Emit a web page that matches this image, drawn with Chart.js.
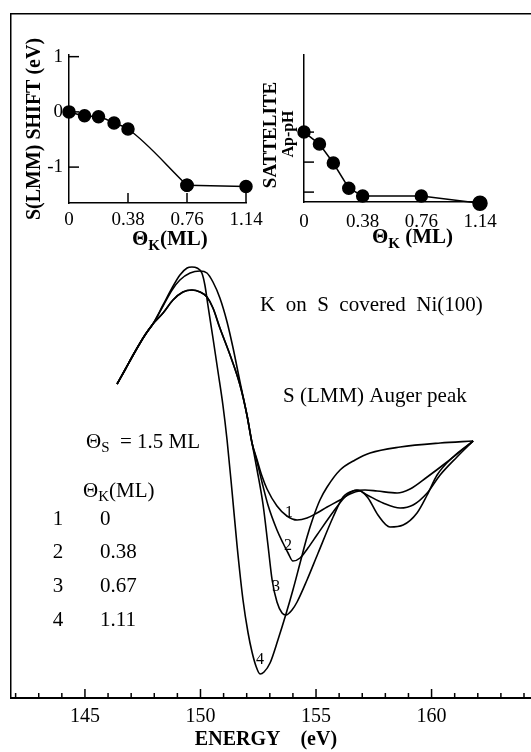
<!DOCTYPE html>
<html>
<head>
<meta charset="utf-8">
<script src="https://cdn.jsdelivr.net/npm/chart.js@4.4.0/dist/chart.umd.min.js"></script>
<style>
  html, body { margin: 0; padding: 0; background: #fff; }
  .wrap { position: relative; width: 531px; height: 752px; }
  .wrap canvas { position: absolute; left: 0; top: 0; }
</style>
</head>
<body>
<div class="wrap">
  <canvas id="augerChart" width="531" height="752"></canvas>
  <canvas id="shiftChart" width="531" height="752"></canvas>
  <canvas id="satChart" width="531" height="752"></canvas>
</div>
<script>
// ===== Data =====
// S(LMM) Auger spectra: energy (eV) and dN/dE (arb. units)
const energy1 = [146.39, 146.73, 147.16, 147.60, 147.94, 148.38, 148.81, 149.24, 149.63, 149.98, 150.28, 150.54, 150.84, 151.28, 151.71, 152.01, 152.23, 152.45, 152.66, 152.88, 153.31, 153.74, 154.18, 154.61, 155.04, 155.48, 156.04, 156.47, 156.90, 157.25, 157.68, 158.20, 158.77, 159.37, 159.81, 160.24, 160.93, 161.80];
const auger1 = [3.14, 3.28, 3.46, 3.63, 3.74, 3.85, 3.98, 4.06, 4.08, 4.06, 4.01, 3.90, 3.70, 3.43, 3.13, 2.83, 2.55, 2.38, 2.22, 2.09, 1.92, 1.82, 1.78, 1.80, 1.85, 1.91, 1.98, 2.04, 2.07, 2.00, 1.83, 1.71, 1.73, 1.85, 2.03, 2.23, 2.41, 2.57];

const energy2 = [146.39, 146.73, 147.16, 147.60, 147.94, 148.38, 148.81, 149.24, 149.63, 149.98, 150.28, 150.54, 150.84, 151.28, 151.71, 152.01, 152.23, 152.45, 152.66, 152.92, 153.31, 153.57, 153.79, 154.00, 154.31, 154.65, 155.04, 155.74, 156.34, 156.77, 157.21, 157.90, 158.64, 159.20, 159.81, 160.37, 161.10, 161.80];
const auger2 = [3.14, 3.28, 3.46, 3.63, 3.74, 3.85, 3.98, 4.06, 4.08, 4.06, 4.01, 3.90, 3.70, 3.43, 3.13, 2.83, 2.55, 2.36, 2.16, 1.93, 1.68, 1.55, 1.45, 1.37, 1.40, 1.50, 1.63, 1.86, 2.03, 2.08, 2.03, 1.95, 1.90, 1.93, 2.05, 2.23, 2.41, 2.57];

const energy3 = [146.39, 146.73, 147.16, 147.60, 147.94, 148.38, 148.77, 149.11, 149.55, 149.98, 150.28, 150.54, 150.84, 151.15, 151.41, 151.71, 152.01, 152.23, 152.45, 152.71, 152.92, 153.10, 153.31, 153.53, 153.70, 153.96, 154.18, 154.61, 155.09, 155.74, 156.17, 156.60, 157.12, 157.64, 158.51, 159.07, 159.81, 160.67, 161.32, 161.80];
const auger3 = [3.14, 3.28, 3.46, 3.63, 3.74, 3.92, 4.08, 4.18, 4.25, 4.27, 4.25, 4.16, 4.00, 3.76, 3.50, 3.16, 2.83, 2.55, 2.28, 1.93, 1.53, 1.18, 0.96, 0.85, 0.83, 0.88, 0.96, 1.18, 1.45, 1.81, 2.01, 2.07, 2.08, 2.07, 2.05, 2.09, 2.21, 2.36, 2.48, 2.57];

const energy4 = [146.39, 146.73, 147.16, 147.60, 147.94, 148.38, 148.77, 149.11, 149.42, 149.63, 149.85, 150.06, 150.19, 150.32, 150.54, 150.76, 150.97, 151.15, 151.36, 151.58, 151.84, 152.06, 152.23, 152.40, 152.58, 152.75, 153.01, 153.35, 153.70, 154.00, 154.31, 154.61, 154.87, 155.17, 155.48, 156.04, 156.69, 157.34, 158.64, 160.37, 161.80];
const auger4 = [3.14, 3.28, 3.46, 3.63, 3.74, 3.93, 4.10, 4.23, 4.30, 4.31, 4.30, 4.25, 4.13, 3.93, 3.60, 3.26, 2.93, 2.58, 2.08, 1.53, 0.98, 0.65, 0.46, 0.32, 0.24, 0.26, 0.35, 0.58, 0.84, 1.08, 1.35, 1.61, 1.80, 1.98, 2.11, 2.28, 2.38, 2.45, 2.51, 2.55, 2.57];

const curveIds = ['1', '2', '3', '4'];
const curveCoverage = ['0', '0.38', '0.67', '1.11'];
const energyTicks = [145, 150, 155, 160];

// Insets: K coverage (ML), S(LMM) shift (eV), satellite Ap-pH (arb.)
const coverageK = [0, 0.1, 0.19, 0.29, 0.38, 0.76, 1.14];
const shiftEv = [0, -0.07, -0.09, -0.2, -0.31, -1.33, -1.35];
const satelliteAmp = [3.0, 2.6, 1.97, 1.13, 0.87, 0.87, 0.63];
const coverageTicks = [0, 0.38, 0.76, 1.14];
const shiftTicks = [-1, 0, 1];
const satTicks = [1, 2, 3];

// ===== Common settings =====
const INK = '#000';
const SERIF = "'Liberation Serif', 'Times New Roman', serif";
Chart.defaults.font.family = SERIF;
Chart.defaults.color = INK;
Chart.defaults.animation = false;

function toPoints(xs, ys) {
  return xs.map((x, i) => ({ x, y: ys[i] }));
}

function drawRich(ctx, x, y, parts) {
  let cx = x;
  parts.forEach((p) => {
    ctx.font = `${p.bold ? 'bold ' : ''}${p.size}px ${SERIF}`;
    ctx.fillText(p.text, cx, y + (p.dy || 0));
    cx += ctx.measureText(p.text).width;
  });
}

function drawRotated(ctx, text, x, y, font) {
  ctx.save();
  ctx.translate(x, y);
  ctx.rotate(-Math.PI / 2);
  ctx.font = font;
  ctx.textAlign = 'center';
  ctx.textBaseline = 'middle';
  ctx.fillText(text, 0, 0);
  ctx.restore();
}

// ticks pointing into the plot
function innerTicks(id, cfg) {
  return {
    id,
    afterDatasetsDraw(chart) {
      const { ctx, chartArea, scales } = chart;
      ctx.save();
      ctx.strokeStyle = INK;
      ctx.lineWidth = cfg.width || 1.5;
      if (cfg.xLen) {
        scales.x.ticks.forEach((t) => {
          const len = cfg.xLen(t.value);
          if (!len) return;
          const px = scales.x.getPixelForValue(t.value);
          ctx.beginPath();
          ctx.moveTo(px, chartArea.bottom);
          ctx.lineTo(px, chartArea.bottom - len);
          ctx.stroke();
        });
      }
      if (cfg.yLen) {
        scales.y.ticks.forEach((t) => {
          const py = scales.y.getPixelForValue(t.value);
          ctx.beginPath();
          ctx.moveTo(chartArea.left, py);
          ctx.lineTo(chartArea.left + cfg.yLen, py);
          ctx.stroke();
        });
      }
      ctx.restore();
    },
  };
}

function curveDataset(xs, ys) {
  return {
    data: toPoints(xs, ys),
    borderColor: INK,
    borderWidth: 1.6,
    pointRadius: 0,
    fill: false,
    cubicInterpolationMode: 'monotone',
  };
}

function dotDataset(xs, ys, extra) {
  return Object.assign({
    data: toPoints(xs, ys),
    borderColor: INK,
    borderWidth: 1.5,
    backgroundColor: INK,
    pointBackgroundColor: INK,
    pointBorderColor: INK,
    pointRadius: 6,
    clip: false,
  }, extra);
}

// ===== Main chart: Auger spectra =====
function renderAugerChart() {
  const notes = {
    id: 'augerNotes',
    afterDraw(chart) {
      const { ctx } = chart;
      ctx.save();
      ctx.fillStyle = INK;
      ctx.textBaseline = 'middle';
      ctx.textAlign = 'left';
      drawRich(ctx, 260, 305, [{ text: 'K  on  S  covered  Ni(100)', size: 21 }]);
      drawRich(ctx, 283, 396, [{ text: 'S (LMM) Auger peak', size: 21 }]);
      drawRich(ctx, 86, 442, [
        { text: 'Θ', size: 21 },
        { text: 'S', size: 15, dy: 6 },
        { text: '  = 1.5 ML', size: 21 },
      ]);
      drawRich(ctx, 83, 491, [
        { text: 'Θ', size: 21 },
        { text: 'K', size: 15, dy: 6 },
        { text: '(ML)', size: 21 },
      ]);
      ctx.font = `21px ${SERIF}`;
      curveIds.forEach((id, i) => {
        const y = 519 + i * 33.7;
        ctx.textAlign = 'center';
        ctx.fillText(id, 58, y);
        ctx.textAlign = 'left';
        ctx.fillText(curveCoverage[i], 100, y);
      });
      const labelPos = [[289, 513], [288, 546], [276, 587], [260, 660]];
      ctx.font = `16px ${SERIF}`;
      ctx.textAlign = 'center';
      curveIds.forEach((id, i) => ctx.fillText(id, labelPos[i][0], labelPos[i][1]));
      ctx.restore();
    },
  };

  new Chart(document.getElementById('augerChart'), {
    type: 'line',
    data: {
      datasets: [
        curveDataset(energy1, auger1),
        curveDataset(energy2, auger2),
        curveDataset(energy3, auger3),
        curveDataset(energy4, auger4),
      ],
    },
    options: {
      responsive: false,
      layout: { padding: { top: 14, left: 0, right: 0, bottom: 0 } },
      plugins: { legend: { display: false }, tooltip: { enabled: false } },
      scales: {
        x: {
          type: 'linear',
          position: 'bottom',
          min: 141.8,
          max: 164.3,
          afterBuildTicks: (scale) => {
            const ticks = [];
            for (let v = 142; v <= 164; v++) ticks.push({ value: v });
            scale.ticks = ticks;
          },
          afterFit: (scale) => { scale.height = 54; },
          ticks: {
            autoSkip: false,
            maxRotation: 0,
            padding: 7,
            font: { size: 20 },
            callback: (v) => (energyTicks.includes(v) ? String(v) : ''),
          },
          grid: { display: false, drawTicks: false },
          border: { display: true, color: INK, width: 2 },
          title: {
            display: true,
            text: 'ENERGY    (eV)  ',
            font: { size: 20, weight: 'bold' },
            padding: { top: 0, bottom: 0 },
          },
        },
        x2: {
          type: 'linear',
          position: 'top',
          min: 141.8,
          max: 164.3,
          afterFit: (scale) => { scale.height = 0; },
          ticks: { display: false },
          grid: { display: false, drawTicks: false },
          border: { display: true, color: INK, width: 1.5 },
        },
        y: {
          type: 'linear',
          position: 'left',
          min: 0,
          max: 6.84,
          afterFit: (scale) => { scale.width = 11; },
          ticks: { display: false },
          grid: { display: false, drawTicks: false },
          border: { display: true, color: INK, width: 1.5 },
        },
      },
    },
    plugins: [
      innerTicks('augerTicks', { xLen: (v) => (energyTicks.includes(v) ? 9 : 5) }),
      notes,
    ],
  });
}

// ===== Inset: S(LMM) shift =====
function renderShiftChart() {
  const notes = {
    id: 'shiftNotes',
    afterDraw(chart) {
      const { ctx } = chart;
      ctx.save();
      ctx.fillStyle = INK;
      ctx.textBaseline = 'middle';
      ctx.textAlign = 'left';
      drawRich(ctx, 132, 240, [
        { text: 'Θ', size: 21, bold: true },
        { text: 'K', size: 15, bold: true, dy: 6 },
        { text: '(ML)', size: 21, bold: true },
      ]);
      ctx.restore();
    },
  };

  new Chart(document.getElementById('shiftChart'), {
    type: 'line',
    data: {
      datasets: [
        // fitted curve up to 0.76 ML, then a straight segment
        dotDataset(coverageK.slice(0, 6), shiftEv.slice(0, 6), { cubicInterpolationMode: 'monotone' }),
        dotDataset(coverageK.slice(5), shiftEv.slice(5), { tension: 0 }),
      ],
    },
    options: {
      responsive: false,
      layout: { padding: { top: 55, left: 0, right: 285, bottom: 499 } },
      plugins: { legend: { display: false }, tooltip: { enabled: false } },
      scales: {
        x: {
          type: 'linear',
          min: 0,
          max: 1.14,
          afterBuildTicks: (scale) => { scale.ticks = coverageTicks.map((v) => ({ value: v })); },
          afterFit: (scale) => { scale.height = 50; },
          ticks: { autoSkip: false, maxRotation: 0, padding: 6, font: { size: 19 }, callback: (v) => String(v) },
          grid: { display: false, drawTicks: false },
          border: { display: true, color: INK, width: 1.5 },
        },
        y: {
          type: 'linear',
          min: -1.65,
          max: 1.03,
          afterBuildTicks: (scale) => { scale.ticks = shiftTicks.map((v) => ({ value: v })); },
          afterFit: (scale) => { scale.width = 69; },
          ticks: { padding: 6, font: { size: 19 }, callback: (v) => String(v) },
          grid: { display: false, drawTicks: false },
          border: { display: true, color: INK, width: 1.5 },
          title: {
            display: true,
            text: 'S(LMM) SHIFT (eV)',
            font: { size: 20, weight: 'bold' },
            padding: { top: 23, bottom: 0 },
          },
        },
      },
    },
    plugins: [
      innerTicks('shiftTicks', { xLen: (v) => (v > 0 ? 10 : 0), yLen: 10 }),
      notes,
    ],
  });
}

// ===== Inset: satellite amplitude =====
function renderSatelliteChart() {
  const notes = {
    id: 'satNotes',
    afterDraw(chart) {
      const { ctx } = chart;
      ctx.save();
      ctx.fillStyle = INK;
      drawRotated(ctx, 'SATTELITE', 271, 135, `bold 19px ${SERIF}`);
      drawRotated(ctx, 'Ap-pH', 289, 134, `bold 16px ${SERIF}`);
      ctx.textBaseline = 'middle';
      ctx.textAlign = 'left';
      drawRich(ctx, 372, 238, [
        { text: 'Θ', size: 21, bold: true },
        { text: 'K', size: 15, bold: true, dy: 6 },
        { text: ' (ML)', size: 21, bold: true },
      ]);
      ctx.restore();
    },
  };

  new Chart(document.getElementById('satChart'), {
    type: 'line',
    data: {
      datasets: [
        dotDataset(coverageK, satelliteAmp, { pointRadius: [6, 6, 6, 6, 6, 6, 7], tension: 0 }),
      ],
    },
    options: {
      responsive: false,
      layout: { padding: { top: 55, left: 304, right: 51, bottom: 500 } },
      plugins: { legend: { display: false }, tooltip: { enabled: false } },
      scales: {
        x: {
          type: 'linear',
          min: 0,
          max: 1.14,
          afterBuildTicks: (scale) => { scale.ticks = coverageTicks.map((v) => ({ value: v })); },
          afterFit: (scale) => { scale.height = 50; },
          ticks: { autoSkip: false, maxRotation: 0, padding: 9, font: { size: 19 }, callback: (v) => String(v) },
          grid: { display: false, drawTicks: false },
          border: { display: true, color: INK, width: 1.5 },
        },
        y: {
          type: 'linear',
          min: 0.67,
          max: 5.57,
          afterBuildTicks: (scale) => { scale.ticks = satTicks.map((v) => ({ value: v })); },
          afterFit: (scale) => { scale.width = 0; },
          ticks: { display: false },
          grid: { display: false, drawTicks: false },
          border: { display: true, color: INK, width: 1.5 },
        },
      },
    },
    plugins: [innerTicks('satTicks', { yLen: 10 }), notes],
  });
}

// ===== Init =====
renderAugerChart();
renderShiftChart();
renderSatelliteChart();
</script>
</body>
</html>
